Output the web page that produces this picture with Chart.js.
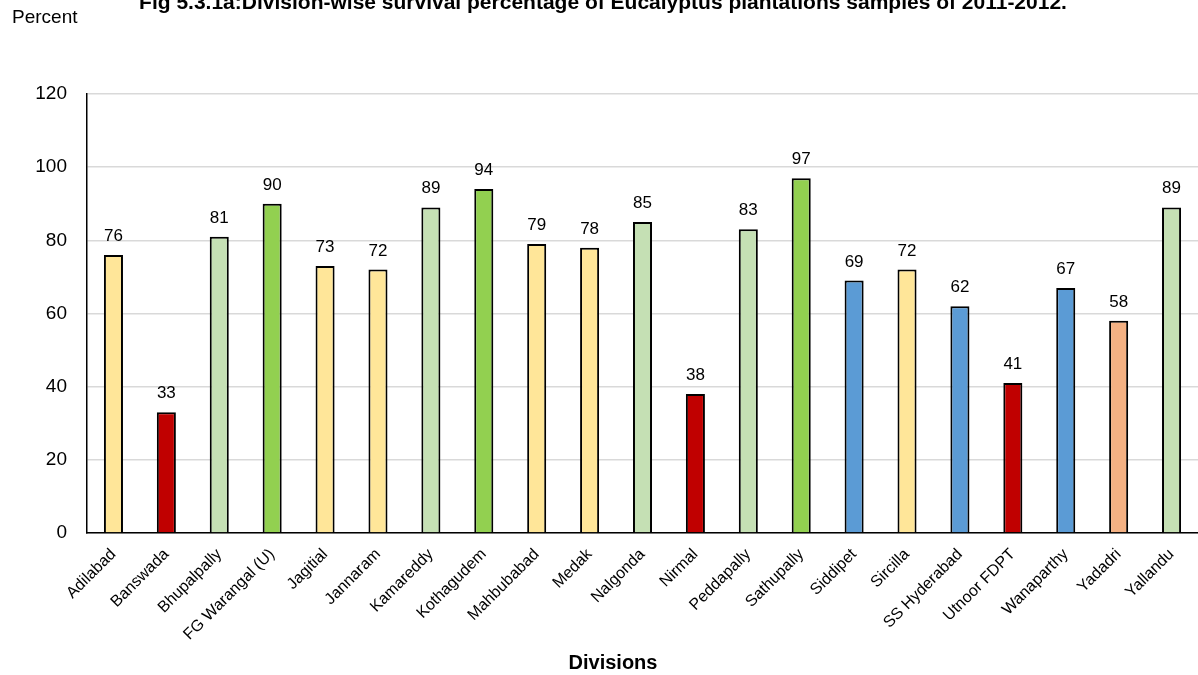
<!DOCTYPE html>
<html>
<head>
<meta charset="utf-8">
<script src="https://cdn.jsdelivr.net/npm/chart.js@4.4.1/dist/chart.umd.min.js"></script>
<style>
    html, body { margin: 0; padding: 0; background: #fff; }
    #wrap { position: relative; width: 1198px; height: 675px; }
</style>
</head>
<body>
<div id="wrap"><canvas id="chart" width="1198" height="675"></canvas></div>
<script>
// DATA

const divisions = [
    "Adilabad", "Banswada", "Bhupalpally", "FG Warangal (U)", "Jagitial",
    "Jannaram", "Kamareddy", "Kothagudem", "Mahbubabad", "Medak",
    "Nalgonda", "Nirmal", "Peddapally", "Sathupally", "Siddipet",
    "Sircilla", "SS Hyderabad", "Utnoor FDPT", "Wanaparthy", "Yadadri", "Yallandu"
];
const survival = [76, 33, 81, 90, 73, 72, 89, 94, 79, 78, 85, 38, 83, 97, 69, 72, 62, 41, 67, 58, 89];
const barColors = [
    "#FFE699", "#C00000", "#C5E0B4", "#92D050", "#FFE699",
    "#FFE699", "#C5E0B4", "#92D050", "#FFE699", "#FFE699",
    "#C5E0B4", "#C00000", "#C5E0B4", "#92D050", "#5B9BD5",
    "#FFE699", "#5B9BD5", "#C00000", "#5B9BD5", "#F4B183", "#C5E0B4"
];
const yTicks = [0, 20, 40, 60, 80, 100, 120];

const chartTitle = "Fig 5.3.1a:Division-wise survival percentage of Eucalyptus plantations samples of 2011-2012.";
const yAxisTitle = "Percent";
const xAxisTitle = "Divisions";
const FONT = "'Liberation Sans', Arial, sans-serif";


// VALUE LABELS + HEADER TEXT

const labelsPlugin = {
    id: "labelsPlugin",
    afterDatasetsDraw(chart) {
        const ctx = chart.ctx;
        const meta = chart.getDatasetMeta(0);
        ctx.save();
        ctx.fillStyle = "#000";
        ctx.font = "17px " + FONT;
        ctx.textAlign = "center";
        ctx.textBaseline = "alphabetic";
        meta.data.forEach((bar, i) => {
            ctx.fillText(String(survival[i]), bar.x, bar.y - 14);
        });

        ctx.font = "bold 21px " + FONT;
        ctx.fillText(chartTitle, 603, 9);

        ctx.font = "bold 20px " + FONT;
        ctx.fillText(xAxisTitle, 613, 669);

        ctx.font = "19px " + FONT;
        ctx.textAlign = "left";
        ctx.fillText(yAxisTitle, 12, 23);
        ctx.restore();
    }
};


// CHART

new Chart(document.getElementById("chart").getContext("2d"), {
    type: "bar",
    data: {
        labels: divisions,
        datasets: [{
            data: survival,
            backgroundColor: barColors,
            borderColor: "#000",
            borderWidth: 2,
            borderSkipped: "bottom",
            barPercentage: 0.36,
            categoryPercentage: 1
        }]
    },
    options: {
        responsive: false,
        animation: false,
        layout: { padding: { top: 94, right: 0, left: 0, bottom: 0 } },
        plugins: {
            legend: { display: false },
            tooltip: { enabled: false },
            title: { display: false }
        },
        scales: {
            x: {
                grid: { display: false },
                border: { display: true, color: "#000", width: 1.5 },
                ticks: {
                    color: "#000",
                    font: { family: FONT, size: 16 },
                    maxRotation: 45,
                    minRotation: 45,
                    autoSkip: false,
                    padding: 4
                },
                afterFit(scale) { scale.height = 142; }
            },
            y: {
                min: 0,
                max: 120,
                afterBuildTicks(scale) {
                    scale.ticks = yTicks.map(v => ({ value: v }));
                },
                grid: { color: "#D9D9D9", lineWidth: 1.5, drawTicks: false },
                border: { display: true, color: "#000", width: 1.5 },
                ticks: {
                    color: "#000",
                    font: { family: FONT, size: 19 },
                    padding: 20
                },
                afterFit(scale) { scale.width = 87; }
            }
        }
    },
    plugins: [labelsPlugin]
});
</script>
</body>
</html>
